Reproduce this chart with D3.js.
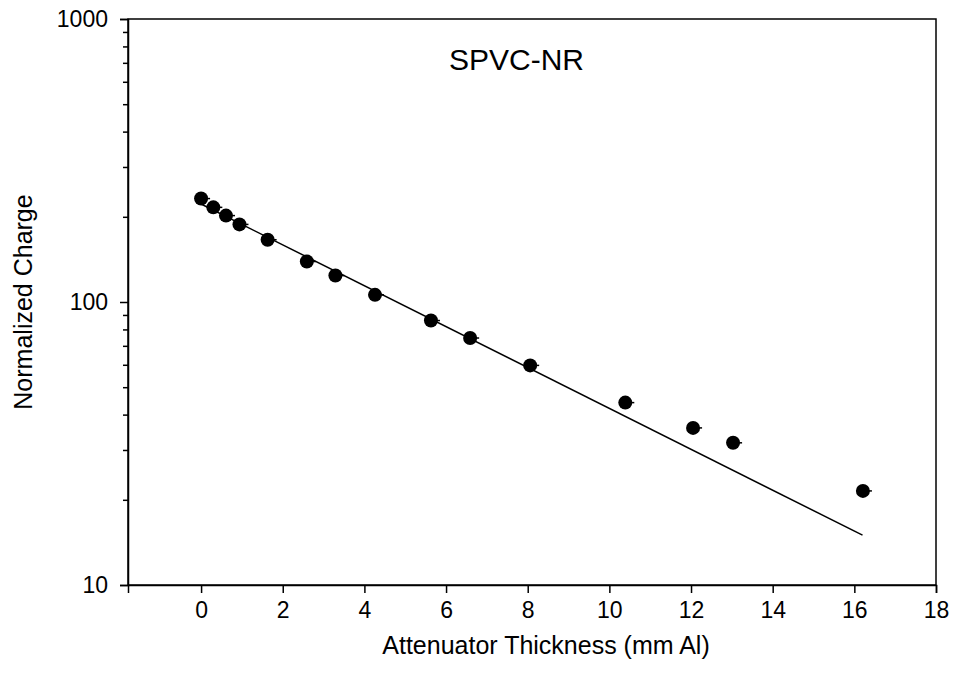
<!DOCTYPE html>
<html>
<head>
<meta charset="utf-8">
<script src="https://cdn.jsdelivr.net/npm/d3@7"></script>
<style>
  body { margin: 0; background: #fff; }
  svg { display: block; font-family: "Liberation Sans", Arial, sans-serif; }
</style>
</head>
<body>
<div id="chart"></div>
<script>
// measured points
const thickness = [0, 0.30, 0.61, 0.94, 1.63, 2.59, 3.29, 4.26, 5.63, 6.59, 8.06, 10.39, 12.05, 13.03, 16.21];
const charge = [232, 216, 202, 188, 166, 139, 124, 106, 86, 74.6, 59.7, 44.1, 35.9, 31.8, 21.5];

// exponential fit, end points
const fitX = [0, 16.2];
const fitY = [222, 15];

const xTicks = [0, 2, 4, 6, 8, 10, 12, 14, 16, 18];
const yTicks = [10, 100, 1000];

const width = 953, height = 683;
const margin = { top: 19, right: 17, bottom: 98, left: 128 };
const innerWidth = width - margin.left - margin.right;
const innerHeight = height - margin.top - margin.bottom;

const svg = d3.select('#chart')
  .append('svg')
  .attr('width', width)
  .attr('height', height);

const g = svg.append('g')
  .attr('transform', `translate(${margin.left},${margin.top})`);

const x = d3.scaleLinear()
  .domain([-1.79, 18])
  .range([0, innerWidth]);

const y = d3.scaleLog()
  .domain([10, 1000])
  .range([innerHeight, 0]);

// frame
g.append('rect')
  .attr('width', innerWidth)
  .attr('height', innerHeight)
  .attr('fill', 'none')
  .attr('stroke', '#000')
  .attr('stroke-width', 1.5);

// x axis
const xAxis = g.append('g')
  .attr('transform', `translate(0,${innerHeight})`)
  .call(d3.axisBottom(x).tickValues(xTicks).tickSize(8).tickPadding(9).tickFormat(d3.format('d')));

// y axis, minor ticks first
const minor = d3.range(1, 3).flatMap(e => d3.range(2, 10).map(m => m * Math.pow(10, e)));
g.append('g')
  .call(d3.axisLeft(y).tickValues(minor).tickSize(5).tickFormat(''))
  .call(a => a.select('.domain').remove());

const yAxis = g.append('g')
  .call(d3.axisLeft(y).tickValues(yTicks).tickSize(8).tickPadding(12).tickFormat(d3.format('d')));

[xAxis, yAxis].forEach(a => {
  a.select('.domain').attr('stroke-width', 1.5);
  a.selectAll('.tick text').attr('font-size', 23).attr('fill', '#000').attr('font-family', '"Liberation Sans", Arial, sans-serif');
});
g.selectAll('.tick line').attr('stroke', '#000').attr('stroke-width', 1.5);

// fit line
g.append('path')
  .datum(fitX.map((d, i) => [d, fitY[i]]))
  .attr('fill', 'none')
  .attr('stroke', '#000')
  .attr('stroke-width', 1.5)
  .attr('d', d3.line().x(d => x(d[0])).y(d => y(d[1])));

// small stubs to the right of markers
g.selectAll('.stub')
  .data(thickness)
  .join('line')
  .attr('class', 'stub')
  .attr('x1', d => x(d))
  .attr('x2', d => x(d) + 9)
  .attr('y1', (d, i) => y(charge[i]))
  .attr('y2', (d, i) => y(charge[i]))
  .attr('stroke', '#000')
  .attr('stroke-width', 1.5);

g.selectAll('.dot')
  .data(thickness)
  .join('circle')
  .attr('class', 'dot')
  .attr('cx', d => x(d))
  .attr('cy', (d, i) => y(charge[i]))
  .attr('r', 7)
  .attr('fill', '#000');

// labels
svg.append('text')
  .attr('x', 449)
  .attr('y', 70)
  .attr('font-size', 30)
  .text('SPVC-NR');

svg.append('text')
  .attr('x', 546)
  .attr('y', 654)
  .attr('text-anchor', 'middle')
  .attr('font-size', 25)
  .text('Attenuator Thickness (mm Al)');

svg.append('text')
  .attr('transform', `translate(32,${margin.top + innerHeight / 2}) rotate(-90)`)
  .attr('text-anchor', 'middle')
  .attr('font-size', 25)
  .text('Normalized Charge');
</script>
</body>
</html>
